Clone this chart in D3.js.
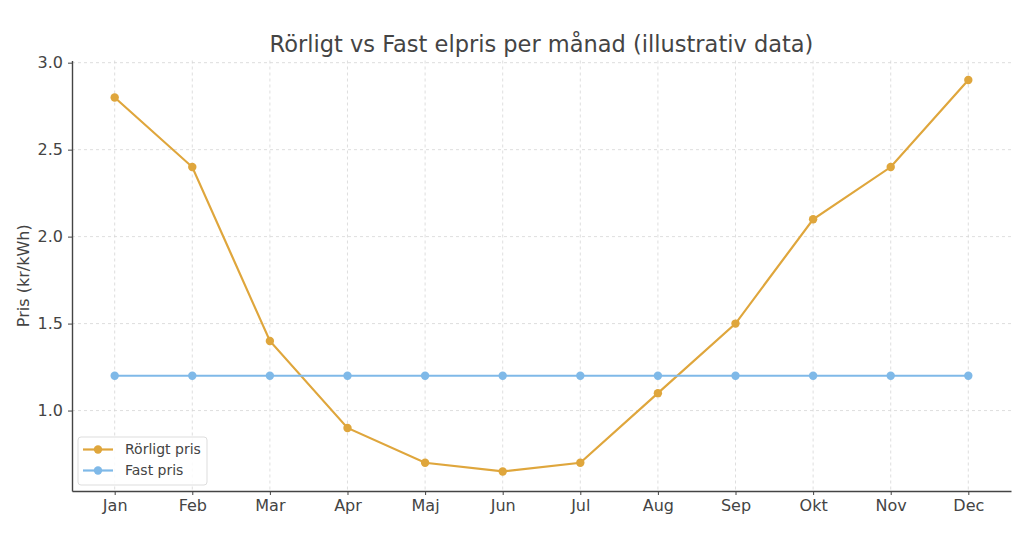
<!DOCTYPE html>
<html>
<head>
<meta charset="utf-8">
<script src="https://cdn.jsdelivr.net/npm/d3@7"></script>
<style>
  body { margin: 0; background: #fff; }
  text { font-family: "DejaVu Sans", sans-serif; }
</style>
</head>
<body>
<div id="chart-container"></div>
<script>
// Months on the x axis
const months = ["Jan", "Feb", "Mar", "Apr", "Maj", "Jun", "Jul", "Aug", "Sep", "Okt", "Nov", "Dec"];

// Price series (kr/kWh)
const rorligtPris = [2.8, 2.4, 1.4, 0.9, 0.7, 0.65, 0.7, 1.1, 1.5, 2.1, 2.4, 2.9];
const fastPris = [1.2, 1.2, 1.2, 1.2, 1.2, 1.2, 1.2, 1.2, 1.2, 1.2, 1.2, 1.2];

// Y tick labels
const yTicks = [1.0, 1.5, 2.0, 2.5, 3.0];

const seriesNames = ["Rörligt pris", "Fast pris"];
const colors = ["#DFA63C", "#7FB9E8"];

const W = 1024, H = 558;
const margin = { top: 60.5, right: 13, bottom: 67, left: 72 };
const width = W - margin.left - margin.right;
const height = H - margin.top - margin.bottom;

const svg = d3.select("#chart-container").append("svg")
    .attr("width", W)
    .attr("height", H);

const g = svg.append("g")
    .attr("transform", "translate(" + margin.left + "," + margin.top + ")");

// x: index scale with matplotlib-style 5% margins
const x = d3.scaleLinear()
    .domain([-0.55, months.length - 1 + 0.55])
    .range([0, width]);

const allVals = rorligtPris.concat(fastPris);
const yMin = d3.min(allVals), yMax = d3.max(allVals);
const pad = (yMax - yMin) * 0.05;
const y = d3.scaleLinear()
    .domain([yMin - pad, yMax + pad])
    .range([height, 0]);

// Grid
g.append("g").selectAll("line")
    .data(months.map((m, i) => i))
    .enter().append("line")
    .attr("x1", d => x(d)).attr("x2", d => x(d))
    .attr("y1", 0).attr("y2", height)
    .attr("stroke", "#d6d6d6").attr("stroke-width", 0.8)
    .attr("stroke-dasharray", "3,3");

g.append("g").selectAll("line")
    .data(yTicks)
    .enter().append("line")
    .attr("x1", 0).attr("x2", width)
    .attr("y1", d => y(d)).attr("y2", d => y(d))
    .attr("stroke", "#d6d6d6").attr("stroke-width", 0.8)
    .attr("stroke-dasharray", "3,3");

// Axes
const xAxis = g.append("g")
    .attr("transform", "translate(0," + height + ")")
    .call(d3.axisBottom(x).tickValues(months.map((m, i) => i))
        .tickFormat(i => months[i]).tickSize(4).tickSizeOuter(0).tickPadding(5));

const yAxis = g.append("g")
    .call(d3.axisLeft(y).tickValues(yTicks)
        .tickFormat(d3.format(".1f")).tickSize(4).tickSizeOuter(0).tickPadding(5));

[xAxis, yAxis].forEach(a => {
    a.select(".domain").attr("stroke", "#444").attr("stroke-width", 1.4);
    a.selectAll(".tick line").attr("stroke", "#444");
    a.selectAll(".tick text")
        .attr("fill", "#444")
        .style("font-size", "16px")
        .style("font-family", "'DejaVu Sans', sans-serif");
});

// Lines and markers
const series = [rorligtPris, fastPris];
const line = d3.line().x((d, i) => x(i)).y(d => y(d));

series.forEach((s, k) => {
    g.append("path")
        .datum(s)
        .attr("fill", "none")
        .attr("stroke", colors[k])
        .attr("stroke-width", 2.2)
        .attr("d", line);

    g.selectAll(".pt" + k)
        .data(s)
        .enter().append("circle")
        .attr("class", "pt" + k)
        .attr("cx", (d, i) => x(i))
        .attr("cy", d => y(d))
        .attr("r", 4.2)
        .attr("fill", colors[k]);
});

// Title
svg.append("text")
    .attr("x", margin.left + width / 2)
    .attr("y", 52)
    .attr("text-anchor", "middle")
    .attr("fill", "#444")
    .style("font-size", "22.5px")
    .text("Rörligt vs Fast elpris per månad (illustrativ data)");

// Y label
svg.append("text")
    .attr("transform", "translate(29," + (margin.top + height / 2) + ") rotate(-90)")
    .attr("text-anchor", "middle")
    .attr("fill", "#444")
    .style("font-size", "16px")
    .text("Pris (kr/kWh)");

// Legend
const legend = svg.append("g")
    .attr("transform", "translate(78,437)");

legend.append("rect")
    .attr("width", 129).attr("height", 48)
    .attr("rx", 3)
    .attr("fill", "#fff").attr("fill-opacity", 0.85)
    .attr("stroke", "#ddd");

seriesNames.forEach((name, k) => {
    const ly = 12.5 + k * 21;
    legend.append("line")
        .attr("x1", 5).attr("x2", 35)
        .attr("y1", ly).attr("y2", ly)
        .attr("stroke", colors[k]).attr("stroke-width", 2.2);
    legend.append("circle")
        .attr("cx", 20).attr("cy", ly).attr("r", 4.2)
        .attr("fill", colors[k]);
    legend.append("text")
        .attr("x", 47).attr("y", ly)
        .attr("dy", ".35em")
        .attr("fill", "#444")
        .style("font-size", "14px")
        .text(name);
});
</script>
</body>
</html>
